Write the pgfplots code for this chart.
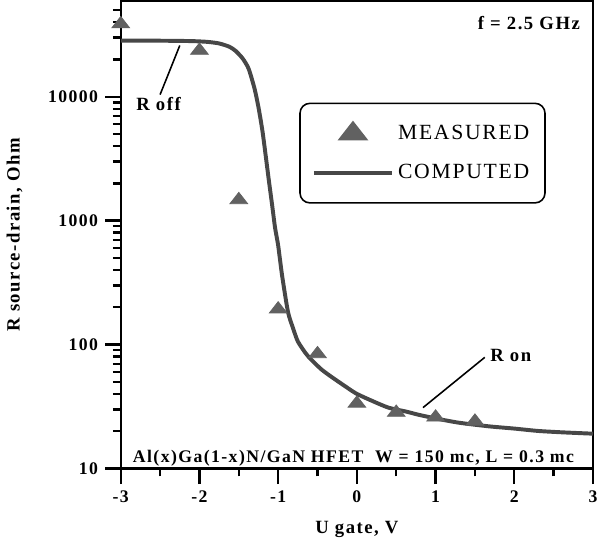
\documentclass[border=0pt]{standalone}
\usepackage{pgfplots}
\pgfplotsset{compat=1.18}
\usepackage{fontspec}
\setmainfont{Liberation Serif}[LetterSpace=8]
\pgfplotsset{
  bigtri legend/.style={legend image code/.code={\draw[##1, mark size=7pt] plot coordinates {(0.7cm,0cm)};}},
  long legend/.style={legend image code/.code={\draw[##1] (0cm,0cm) -- (1.4cm,0cm);}},
}

\begin{document}
\begin{tikzpicture}
\begin{axis}[
  scale only axis, width=240pt, height=237.5pt,
  ymode=log, xmin=-3, xmax=3, ymin=10, ymax=59000,
  xtick={-3,...,3}, xticklabels={-3,-2,-1,0,1,2,3},
  ytick={10,100,1000,10000}, yticklabels={10,100,1000,10000},
  extra x ticks={-2.5,-1.5,-0.5,0.5,1.5,2.5},
  extra x tick labels={},
  extra x tick style={major tick length=4pt},
  extra y ticks={20,30,40,50,60,70,80,90,200,300,400,500,600,700,800,900,
    2000,3000,4000,5000,6000,7000,8000,9000,20000,30000,40000,50000},
  extra y tick labels={},
  extra y tick style={major tick length=4pt},
  tick pos=left, tick align=outside,
  major tick length=8pt,
  axis line style={line width=1.2pt},
  every tick/.append style={black, line width=1.2pt},
  tick label style={font=\bfseries\fontsize{9}{10}\selectfont},
  xlabel={U gate, V}, ylabel={R source-drain, Ohm},
  label style={font=\bfseries\fontsize{9.5}{11}\selectfont},
  xlabel style={at={(rel axis cs:0.5,-0.13)}, anchor=center},
  ylabel style={at={(rel axis cs:-0.225,0.5)}, anchor=center},
  legend style={at={(rel axis cs:0.9,0.783)}, anchor=north east, draw=black,
    line width=0.8pt, rounded corners=5pt, font=\fontsize{11}{13}\selectfont,
    inner xsep=6pt, inner ysep=9pt, row sep=7pt, cells={anchor=west},
    /tikz/every even column/.append style={column sep=12pt}},
]
\addplot[only marks, mark=triangle*, mark size=4.5pt,
  mark options={sharp corners, fill=black!62, draw=black!62, xscale=1.15, yscale=0.85},
  bigtri legend]
  coordinates {
  (-3,38600) (-2,23600) (-1.5,1470) (-1,193) (-0.5,84)
  (0,33.5) (0.5,28.3) (1,25.9) (1.5,24)
};
\addlegendentry{MEASURED}
\addplot[smooth, tension=0.4, line width=2pt, color=black!72, long legend] coordinates {
  (-3,28300) (-2.5,28300) (-2.1,28100) (-1.9,27700) (-1.75,26900)
  (-1.62,25300) (-1.54,23400) (-1.45,20300) (-1.375,16800) (-1.3,11600)
  (-1.25,8200) (-1.2,5300) (-1.16,3400) (-1.12,2150) (-1.075,1310)
  (-1.04,880) (-1.0,630) (-0.95,360) (-0.875,183) (-0.81,135)
  (-0.75,106) (-0.65,85) (-0.575,75) (-0.45,63) (-0.325,55)
  (-0.125,45) (0,40) (0.2,35) (0.4,31) (0.625,28.8)
  (0.8,27) (1.05,25) (1.3,23.4) (1.675,21.9) (2,21)
  (2.3,20.1) (2.6,19.6) (3,19.1)
};
\addlegendentry{COMPUTED}
\draw[line width=0.8pt] (axis cs:-2.25,25900) -- (axis cs:-2.5,10400);
\node[anchor=north, inner sep=0pt, font=\bfseries\fontsize{9.5}{11}\selectfont]
  at (axis cs:-2.52,10000) {R off};
\draw[line width=0.8pt] (axis cs:1.625,78.9) -- (axis cs:0.84,31);
\node[anchor=west, inner sep=0pt, font=\bfseries\fontsize{9.5}{11}\selectfont]
  at (axis cs:1.69,81.9) {R on};
\node[anchor=east, inner sep=0pt, font=\bfseries\fontsize{9.5}{11}\selectfont]
  at (rel axis cs:0.973,0.954) {f = 2.5 GHz};
\node[anchor=south west, inner sep=0pt, font=\bfseries\fontsize{9}{10}\selectfont]
  at (rel axis cs:0.025,0.005) {Al(x)Ga(1-x)N/GaN HFET\ \ W = 150 mc, L = 0.3 mc};
\end{axis}
\end{tikzpicture}
\end{document}
